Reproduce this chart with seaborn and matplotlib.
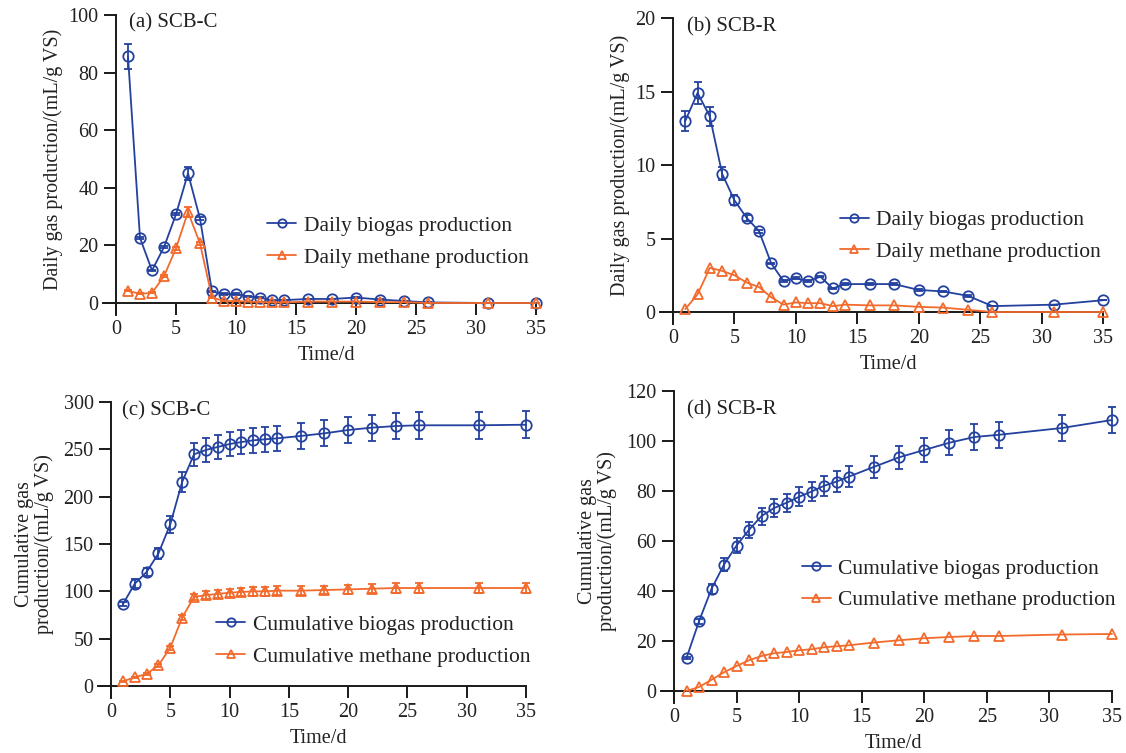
import numpy as np
import pandas as pd
import matplotlib
matplotlib.use("Agg")
import matplotlib.pyplot as plt
from matplotlib.lines import Line2D
import seaborn as sns

# ---------------- data ----------------
days = [1, 2, 3, 4, 5, 6, 7, 8, 9, 10, 11, 12, 13, 14, 16, 18, 20, 22, 24, 26, 31, 35]

a_biogas = [85.6, 22.6, 11.3, 19.4, 30.8, 45.0, 29.3, 4.0, 3.1, 3.1, 2.3, 1.9, 0.9, 1.0,
            1.4, 1.4, 1.9, 1.2, 0.7, 0.2, 0.0, 0.0]
a_biogas_err = [4.3, 0.4, 0.3, 0.3, 0.3, 2.2, 0.6, 0.3, 0.2, 0.2, 0.2, 0.1, 0.1, 0.1,
                0.1, 0.1, 0.1, 0.1, 0.1, 0.0, 0.0, 0.0]
a_methane = [4.2, 3.2, 3.5, 9.3, 19.0, 31.6, 20.7, 1.9, 0.7, 0.7, 0.5, 0.3, 0.2, 0.2,
             0.5, 0.5, 0.5, 0.3, 0.3, 0.0, 0.0, 0.0]
a_methane_err = [0.2, 0.2, 0.2, 0.4, 0.5, 1.7, 0.6, 0.1, 0.1, 0.1, 0.0, 0.0, 0.0, 0.0,
                 0.0, 0.0, 0.0, 0.0, 0.0, 0.0, 0.0, 0.0]

b_biogas = [13.0, 14.9, 13.3, 9.4, 7.6, 6.4, 5.5, 3.3, 2.1, 2.3, 2.1, 2.4, 1.6, 1.9,
            1.9, 1.9, 1.5, 1.4, 1.1, 0.4, 0.5, 0.8]
b_biogas_err = [0.67, 0.75, 0.66, 0.45, 0.35, 0.2, 0.1, 0.05, 0.05, 0.05, 0.05, 0.05, 0.05, 0.05,
                0.05, 0.05, 0.05, 0.05, 0.05, 0.0, 0.0, 0.0]
b_methane = [0.2, 1.2, 3.0, 2.8, 2.5, 2.0, 1.7, 1.0, 0.5, 0.65, 0.6, 0.6, 0.4, 0.5,
             0.45, 0.45, 0.35, 0.3, 0.15, 0.0, 0.0, 0.0]

c_biogas = [86.3, 108.0, 120.4, 140.0, 170.8, 215.5, 244.7, 249.3, 252.5, 255.6, 257.7, 259.5,
            260.6, 261.6, 264.1, 266.9, 270.4, 272.9, 274.6, 275.4, 275.4, 276.0]
c_biogas_err = [2.0, 4.6, 4.5, 6.0, 8.8, 11.0, 12.3, 12.5, 12.7, 12.9, 13.0, 13.2,
                13.3, 13.4, 13.5, 13.6, 13.7, 13.8, 13.9, 14.0, 14.0, 14.0]
c_methane = [4.9, 9.2, 12.7, 21.8, 40.5, 72.2, 94.0, 96.0, 97.2, 98.6, 99.3, 100.0,
             100.0, 100.7, 100.7, 101.4, 102.0, 102.8, 103.5, 103.5, 103.5, 103.5]
c_methane_err = [0.5, 0.8, 1.0, 1.5, 2.0, 2.5, 3.5, 4.0, 4.2, 4.3, 4.4, 4.5,
                 4.5, 4.6, 4.6, 4.7, 4.7, 4.8, 4.8, 4.9, 4.9, 4.9]

d_biogas = [13.2, 27.9, 40.9, 50.6, 58.2, 64.5, 70.0, 73.2, 75.3, 77.7, 79.8, 82.1,
            83.8, 85.8, 89.7, 93.5, 96.4, 99.3, 101.6, 102.5, 105.2, 108.4]
d_biogas_err = [0.5, 1.0, 1.9, 2.5, 2.9, 3.2, 3.4, 3.5, 3.6, 3.8, 3.9, 4.0,
                4.1, 4.3, 4.4, 4.6, 4.8, 5.0, 5.1, 5.1, 5.2, 5.3]
d_methane = [0.0, 1.6, 4.5, 7.5, 10.0, 12.3, 14.0, 15.1, 15.6, 16.3, 16.7, 17.5,
             17.9, 18.3, 19.4, 20.3, 21.1, 21.6, 22.0, 22.0, 22.6, 22.8]

x_ticks = [0, 5, 10, 15, 20, 25, 30, 35]
a_yticks = [0, 20, 40, 60, 80, 100]
b_yticks = [0, 5, 10, 15, 20]
c_yticks = [0, 50, 100, 150, 200, 250, 300]
d_yticks = [0, 20, 40, 60, 80, 100, 120]

daily_labels = ["Daily biogas production", "Daily methane production"]
cum_labels = ["Cumulative biogas production", "Cumulative methane production"]
titles = ["(a) SCB-C", "(b) SCB-R", "(c) SCB-C", "(d) SCB-R"]
xlabel = "Time/d"
ylabel_daily = "Daily gas production/(mL/g VS)"
ylabel_cum = "Cumulative gas\nproduction/(mL/g VS)"

# ---------------- style ----------------
sns.set_style("ticks")
plt.rcParams["font.family"] = ["Liberation Serif", "DejaVu Serif"]

BLUE = "#23419E"
ORANGE = "#F26A2C"
TXT = "#222222"
AX = "#1a1a1a"

fig = plt.figure(figsize=(11.26, 7.53), dpi=100)
W, H = 1126, 753


def axes_px(left, right, top, bottom):
    ax = fig.add_axes([left / W, 1 - bottom / H, (right - left) / W, (bottom - top) / H])
    return ax, right - left, bottom - top


panels = [
    (axes_px(116, 536, 15, 303), a_biogas, a_biogas_err, a_methane, a_methane_err, daily_labels,
     a_yticks, ylabel_daily, 4, (0.36, 0.2135), (0.031, 0.972)),
    (axes_px(673, 1103, 18, 312), b_biogas, b_biogas_err, b_methane, None, daily_labels,
     b_yticks, ylabel_daily, 4, (0.388, 0.2585), (0.033, 0.969)),
    (axes_px(111, 526, 402, 686), c_biogas, c_biogas_err, c_methane, c_methane_err, cum_labels,
     c_yticks, ylabel_cum, 7, (0.2536, 0.160), (0.026, 0.968)),
    (axes_px(674, 1112, 391, 691), d_biogas, d_biogas_err, d_methane, None, cum_labels,
     d_yticks, ylabel_cum, 7, (0.292, 0.355), (0.030, 0.937)),
]

for i, ((ax, wpx, hpx), bio, bio_err, met, met_err, labels, yticks, ylab, lpad,
        leg_xy, title_xy) in enumerate(panels):
    df = pd.DataFrame({
        "day": days + days,
        "value": list(bio) + list(met),
        "series": [labels[0]] * len(days) + [labels[1]] * len(days),
    })
    sns.lineplot(data=df, x="day", y="value", hue="series", style="series",
                 palette=[BLUE, ORANGE], markers=["o", "^"], dashes=False,
                 markersize=7.5, markeredgewidth=1.3, linewidth=1.3,
                 ax=ax, zorder=3, legend=False)
    for line, col in zip(ax.get_lines()[:2], [BLUE, ORANGE]):
        line.set_markeredgecolor(col)
        line.set_markerfacecolor("none")
        line.set_clip_on(False)
    eb = ax.errorbar(days, bio, yerr=bio_err, fmt="none", ecolor=BLUE, elinewidth=1.3,
                     capsize=3, capthick=1.3, zorder=2)
    for art in eb.get_children():
        art.set_clip_on(False)
    if met_err is not None:
        eb2 = ax.errorbar(days, met, yerr=met_err, fmt="none", ecolor=ORANGE, elinewidth=1.3,
                          capsize=3, capthick=1.3, zorder=2)
        for art in eb2.get_children():
            art.set_clip_on(False)

    ymax = yticks[-1]
    ax.set_xlim(0, 35)
    ax.set_ylim(0, ymax)
    ax.set_xticks(x_ticks)
    ax.set_yticks(yticks)
    ax.tick_params(direction="out", length=8.5, width=1.4, labelsize=14.5, colors=AX,
                   labelcolor=TXT, pad=4)
    sns.despine(ax=ax)
    for s in ["left", "bottom"]:
        ax.spines[s].set_linewidth(1.4)
        ax.spines[s].set_color(AX)
    # crossing axes: extend spines past the origin
    ax.spines["bottom"].set_bounds(-13 / wpx * 35, 35)
    ax.spines["left"].set_bounds(-12 / hpx * ymax, ymax)

    ax.set_xlabel(xlabel, fontsize=14.5, color=TXT, labelpad=5)
    ax.set_ylabel(ylab, fontsize=14.5, color=TXT, labelpad=lpad, linespacing=1.0)

    handles = [
        Line2D([], [], color=BLUE, marker="o", markersize=6, markerfacecolor="none",
               markeredgecolor=BLUE, markeredgewidth=1.3, linewidth=1.3),
        Line2D([], [], color=ORANGE, marker="^", markersize=6, markerfacecolor="none",
               markeredgecolor=ORANGE, markeredgewidth=1.3, linewidth=1.3),
    ]
    ax.legend(handles, labels, loc="center left", bbox_to_anchor=leg_xy, frameon=False,
              fontsize=15.5, handlelength=1.35, handletextpad=0.35, labelspacing=0.55,
              borderaxespad=0, borderpad=0, labelcolor=TXT)
    ax.text(title_xy[0], title_xy[1], titles[i], transform=ax.transAxes, fontsize=15,
            ha="left", va="center", color=TXT)

fig.savefig("out.png", dpi=100)
